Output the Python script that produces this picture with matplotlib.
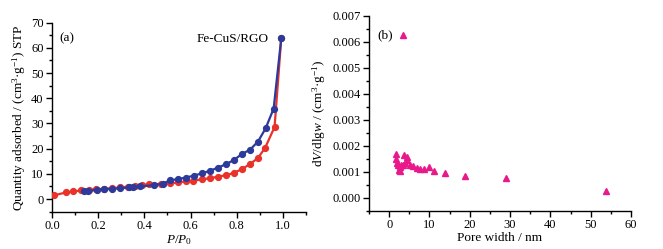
import matplotlib
matplotlib.use("Agg")
import matplotlib.pyplot as plt
from matplotlib.ticker import MultipleLocator

plt.rcParams['font.family'] = ['Liberation Serif', 'DejaVu Serif']
plt.rcParams['mathtext.fontset'] = 'custom'
plt.rcParams['mathtext.rm'] = 'Liberation Serif'
plt.rcParams['mathtext.it'] = 'Liberation Serif:italic'

# (a) isotherm
ads_p = [0.01, 0.06, 0.092, 0.125, 0.16, 0.19, 0.225, 0.26, 0.295, 0.33, 0.36, 0.39, 0.42,
         0.47, 0.51, 0.545, 0.58, 0.612, 0.65, 0.686, 0.72, 0.755, 0.788, 0.823, 0.858, 0.892,
         0.923, 0.964, 0.993]
ads_q = [1.5, 2.6, 3.0, 3.4, 3.7, 3.9, 4.1, 4.3, 4.6, 4.9, 5.2, 5.6, 5.8,
         6.0, 6.2, 6.6, 7.0, 7.3, 7.8, 8.3, 8.9, 9.5, 10.4, 11.9, 13.9, 16.3,
         20.3, 28.6, 63.8]
des_p = [0.14, 0.155, 0.193, 0.225, 0.26, 0.295, 0.335, 0.35, 0.38, 0.44, 0.48, 0.51, 0.544,
         0.58, 0.614, 0.65, 0.686, 0.72, 0.755, 0.788, 0.823, 0.858, 0.892, 0.925, 0.96, 0.993]
des_q = [3.1, 3.3, 3.6, 3.8, 4.0, 4.3, 4.6, 4.8, 5.0, 5.5, 6.1, 7.4, 7.9,
         8.5, 9.3, 10.2, 11.3, 12.5, 13.9, 15.5, 17.9, 19.6, 22.8, 28.0, 35.9, 63.8]

# (b) pore size distribution
pore_w = [3.4, 1.8, 1.7, 2.0, 2.2, 2.5, 2.7, 2.6, 3.0, 3.5, 3.6, 4.5, 4.3, 4.0, 5.1, 6.0,
          6.8, 7.6, 8.6, 9.9, 11.2, 13.9, 18.7, 29.0, 53.9]
dv = [0.00626, 0.00169, 0.00147, 0.00135, 0.00127, 0.00106, 0.00101, 0.00118, 0.00125, 0.00127,
      0.00163, 0.00158, 0.00143, 0.00135, 0.00127, 0.00121, 0.00116, 0.00112, 0.00112, 0.00117,
      0.00101, 0.00096, 0.00085, 0.00075, 0.00027]

fig = plt.figure(figsize=(6.63, 2.49), dpi=100)
ax1 = fig.add_axes([0.0784, 0.150, 0.3831, 0.759])
ax2 = fig.add_axes([0.5566, 0.154, 0.3951, 0.783])

red = '#e8322a'
blue = '#2c3a9c'
ax1.plot(ads_p, ads_q, '-o', color=red, lw=1.6, ms=4.2, zorder=3)
ax1.plot(des_p, des_q, '-o', color=blue, lw=1.6, ms=4.2, zorder=4)
ax1.set_xlim(0, 1.1)
ax1.set_ylim(-5, 70)
ax1.xaxis.set_minor_locator(MultipleLocator(0.1))
ax1.yaxis.set_major_locator(MultipleLocator(10))
ax1.yaxis.set_minor_locator(MultipleLocator(5))
ax1.set_xticks([0, 0.2, 0.4, 0.6, 0.8, 1.0])
ax1.set_xticklabels(['0.0', '0.2', '0.4', '0.6', '0.8', '1.0'])
ax1.set_xlabel(r'$\it{P}$/$\it{P}_0$', fontsize=9.5, labelpad=1)
ax1.set_ylabel('Quantity adsorbed / (cm$^3$·g$^{-1}$) STP', fontsize=9.5, labelpad=2)
ax1.text(0.03, 0.95, '(a)', transform=ax1.transAxes, fontsize=9.5, va='top')
ax1.text(0.57, 0.945, 'Fe-CuS/RGO', transform=ax1.transAxes, fontsize=9.5, va='top')

ax2.plot(pore_w, dv, '^', color='#e8198a', ms=5, ls='none')
ax2.set_xlim(-5, 60)
ax2.set_ylim(-0.0005, 0.007)
ax2.xaxis.set_major_locator(MultipleLocator(10))
ax2.xaxis.set_minor_locator(MultipleLocator(5))
ax2.yaxis.set_minor_locator(MultipleLocator(0.0005))
ax2.set_yticks([0, 0.001, 0.002, 0.003, 0.004, 0.005, 0.006, 0.007])
ax2.set_yticklabels(['0.000', '0.001', '0.002', '0.003', '0.004', '0.005', '0.006', '0.007'])
ax2.set_xlabel('Pore width / nm', fontsize=9.5, labelpad=1)
ax2.set_ylabel(r'd$\it{V}$/dlg$\it{w}$ / (cm$^3$·g$^{-1}$)', fontsize=9.5, labelpad=3)
ax2.text(0.03, 0.93, '(b)', transform=ax2.transAxes, fontsize=9.5, va='top')

for ax in (ax1, ax2):
    ax.spines['top'].set_visible(False)
    ax.spines['right'].set_visible(False)
    ax.tick_params(which='major', direction='out', length=4, width=1, labelsize=9, pad=2)
    ax.tick_params(which='minor', direction='out', length=2, width=1)
    for s in ('left', 'bottom'):
        ax.spines[s].set_linewidth(1)

fig.savefig('out.png', dpi=100)
